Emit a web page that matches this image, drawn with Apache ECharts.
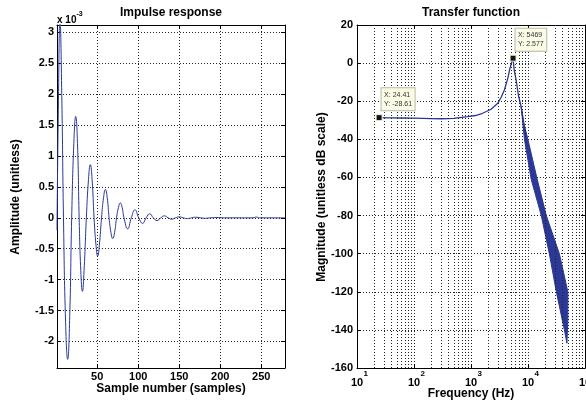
<!DOCTYPE html>
<html><head><meta charset="utf-8">
<script src="https://cdn.jsdelivr.net/npm/echarts@6/dist/echarts.min.js"></script>
<style>html,body{margin:0;padding:0;background:#fff}#c{width:586px;height:405px}</style>
</head><body><div id="c"></div>
<script>
// ---- Impulse response (amplitude in units of 1e-3) ----
const impulseSample = [1, 2.5, 4.7, 6.8, 8.9, 11.5, 14, 16.5, 18.9, 21.5, 23.8, 26, 28, 30, 32, 34, 36.8, 39.4, 41.6, 43.8, 46.2, 48.6, 50.6, 52.6, 55.3, 57.8, 60, 62.2, 64.5, 66.8, 69, 71.2, 73.6, 76, 78.2, 80.4, 82.7, 87.2, 91.6, 96, 100.7, 105.4, 109.7, 114, 118.5, 123, 127.5, 132, 136.5, 141, 145.5, 150, 155, 160, 165, 170, 176, 182, 188, 195, 205, 240, 244, 248, 279];
const impulseAmp = [-0.2, 1.6, 3.2, 2.0, 0, -1.7, -2.29, -1.6, 0, 1.2, 1.64, 1.2, 0, -0.85, -1.19, -0.85, 0, 0.62, 0.86, 0.62, 0, -0.45, -0.62, -0.45, 0, 0.33, 0.46, 0.33, 0, -0.24, -0.335, -0.24, 0, 0.17, 0.24, 0.17, 0, -0.178, 0, 0.13, 0, -0.09, 0, 0.065, 0, -0.045, 0, 0.032, 0, -0.022, 0, 0.016, 0, -0.012, 0, 0.009, 0, -0.007, 0, 0.005, 0, 0, 0.012, 0, 0];
const sampleTicks = [50, 100, 150, 200, 250];
const ampTicks = [-2, -1.5, -1, -0.5, 0, 0.5, 1, 1.5, 2, 2.5, 3];

// ---- Transfer function: smooth part ----
const tfFreq = [24.41, 40, 60, 100, 200, 300, 500, 870, 1200, 1500, 2250, 2950, 3400, 3850, 4420, 4800, 5200, 5469, 5700, 5875, 6200, 6800, 7586, 8400, 9300];
const tfMag = [-28.61, -28.7, -28.8, -28.9, -29.1, -29.2, -29.0, -28.1, -27.5, -26.7, -24.2, -21.1, -17.8, -14.1, -8.0, -3.0, 0.7, 2.577, -3.0, -5.4, -9.0, -17, -22.9, -31.6, -40.5];
// ---- Transfer function: noisy high-frequency band (outline: upper edge out, lower edge back) ----
const bandFreq = [7586, 8400, 9950, 14520, 20940, 35480, 50000, 50000, 48170, 43490, 31410, 23660, 17100, 11380, 8670, 7586];
const bandMag = [-22.9, -31.2, -40, -61, -80, -100, -120, -135, -147, -140, -120, -100, -80, -61, -40, -22.9];

const freqMinorGrid = [20, 30, 40, 50, 60, 70, 80, 90, 200, 300, 400, 500, 600, 700, 800, 900, 2000, 3000, 4000, 5000, 6000, 7000, 8000, 9000, 20000, 30000, 40000, 50000, 60000, 70000, 80000, 90000];
const tipFreq = [24.41, 5469];
const tipMag = [-28.61, 2.577];

const FONT = "'Liberation Sans', Arial, Helvetica, sans-serif";
const LINE = '#2b3896';
const gridLine = { show: true, lineStyle: { color: '#222', width: 1, type: [1, 2] } };
const axLine = { show: true, onZero: false, lineStyle: { color: '#000', width: 1 } };
const lbl = { color: '#000', fontFamily: FONT, fontWeight: 'bold', fontSize: 11 };

function pairs(xs, ys) { return xs.map((x, i) => [x, ys[i]]); }

const chart = echarts.init(document.getElementById('c'), null, { renderer: 'canvas' });
chart.setOption({
  animation: false,
  backgroundColor: '#fff',
  grid: [
    { left: 57, top: 25, width: 228, height: 343, outerBoundsMode: 'none', containLabel: false },
    { left: 357, top: 25, width: 228, height: 343, outerBoundsMode: 'none', containLabel: false }
  ],
  xAxis: [
    { gridIndex: 0, type: 'value', min: 1, max: 279, position: 'bottom', axisLine: axLine,
      axisTick: { show: true, inside: true, length: 4, customValues: sampleTicks, lineStyle: { color: '#000' } },
      axisLabel: Object.assign({ customValues: sampleTicks, margin: 3 }, lbl), splitLine: gridLine },
    { gridIndex: 0, type: 'value', min: 1, max: 279, position: 'top', axisLine: axLine,
      axisTick: { show: true, inside: true, length: 4, customValues: sampleTicks, lineStyle: { color: '#000' } },
      axisLabel: { show: false }, splitLine: { show: false } },
    { gridIndex: 1, type: 'log', logBase: 10, min: 10, max: 100000, position: 'bottom', axisLine: axLine,
      axisTick: { show: true, inside: true, length: 4, lineStyle: { color: '#000' } },
      axisLabel: { margin: 2, color: '#000',
        formatter: v => '{p|}{b|10}{s|' + Math.round(Math.log10(v)) + '}',
        rich: {
          p: { width: 5 },
          b: { fontFamily: FONT, fontWeight: 'bold', fontSize: 11, lineHeight: 18, verticalAlign: 'bottom', color: '#000' },
          s: { fontFamily: FONT, fontWeight: 'bold', fontSize: 8, lineHeight: 18, verticalAlign: 'top', color: '#000', width: 5 }
        } },
      splitLine: gridLine },
    { gridIndex: 1, type: 'log', logBase: 10, min: 10, max: 100000, position: 'top', axisLine: axLine,
      axisTick: { show: true, inside: true, length: 4, lineStyle: { color: '#000' } },
      axisLabel: { show: false }, splitLine: { show: false } }
  ],
  yAxis: [
    { gridIndex: 0, type: 'value', min: -2.43, max: 3.12, position: 'left', axisLine: axLine,
      axisTick: { show: true, inside: true, length: 4, customValues: ampTicks, lineStyle: { color: '#000' } },
      axisLabel: Object.assign({ customValues: ampTicks, margin: 3 }, lbl), splitLine: gridLine },
    { gridIndex: 0, type: 'value', min: -2.43, max: 3.12, position: 'right', axisLine: axLine,
      axisTick: { show: true, inside: true, length: 4, customValues: ampTicks, lineStyle: { color: '#000' } },
      axisLabel: { show: false }, splitLine: { show: false } },
    { gridIndex: 1, type: 'value', min: -160, max: 20, interval: 20, position: 'left', axisLine: axLine,
      axisTick: { show: true, inside: true, length: 4, lineStyle: { color: '#000' } },
      axisLabel: Object.assign({ margin: 4 }, lbl), splitLine: gridLine },
    { gridIndex: 1, type: 'value', min: -160, max: 20, interval: 20, position: 'right', axisLine: axLine,
      axisTick: { show: true, inside: true, length: 4, lineStyle: { color: '#000' } },
      axisLabel: { show: false }, splitLine: { show: false } }
  ],
  series: [
    { type: 'line', xAxisIndex: 0, yAxisIndex: 0, data: pairs(impulseSample, impulseAmp), smooth: 0.5,
      showSymbol: false, symbol: 'none', lineStyle: { color: LINE, width: 1 }, clip: true, z: 3 },
    { type: 'line', xAxisIndex: 2, yAxisIndex: 2, data: [], z: 1, silent: true,
      markLine: { silent: true, symbol: ['none', 'none'], label: { show: false },
        lineStyle: { color: '#222', width: 1, type: [1, 2] },
        data: freqMinorGrid.map(f => ({ xAxis: f })) } },
    { type: 'custom', xAxisIndex: 2, yAxisIndex: 2, coordinateSystem: 'cartesian2d', data: [[bandFreq[0], bandMag[0]]], z: 3, silent: true,
      renderItem: (params, api) => ({
        type: 'polygon',
        shape: { points: bandFreq.map((f, i) => api.coord([f, bandMag[i]])) },
        style: { fill: LINE, stroke: LINE, lineWidth: 1 }
      }) },
    { type: 'line', xAxisIndex: 2, yAxisIndex: 2, data: pairs(tfFreq, tfMag), smooth: false,
      showSymbol: false, symbol: 'none', lineStyle: { color: LINE, width: 1.3 }, clip: true, z: 4,
      markPoint: { symbol: 'rect', symbolSize: 6,
        itemStyle: { color: '#111', borderColor: '#f4f4d8', borderWidth: 1 },
        label: { show: true, position: [6, -26], align: 'left', verticalAlign: 'top',
          formatter: p => 'X: ' + p.data.coord[0] + '\nY: ' + p.data.coord[1],
          backgroundColor: '#fbfbe6', borderColor: '#b8b8a8', borderWidth: 1, padding: [2, 2.5],
          fontFamily: FONT, fontSize: 7, lineHeight: 9, color: '#333' },
        data: tipFreq.map((f, i) => ({ coord: [f, tipMag[i]] })) } }
  ],
  graphic: [
    { type: 'text', x: 171, y: 13, style: { text: 'Impulse response', font: 'bold 12px ' + FONT, fill: '#000', align: 'center', verticalAlign: 'middle' } },
    { type: 'text', x: 471, y: 13, style: { text: 'Transfer function', font: 'bold 12px ' + FONT, fill: '#000', align: 'center', verticalAlign: 'middle' } },
    { type: 'text', x: 171, y: 389, style: { text: 'Sample number (samples)', font: 'bold 12px ' + FONT, fill: '#000', align: 'center', verticalAlign: 'middle' } },
    { type: 'text', x: 471, y: 394, style: { text: 'Frequency (Hz)', font: 'bold 12px ' + FONT, fill: '#000', align: 'center', verticalAlign: 'middle' } },
    { type: 'text', x: 16, y: 197, rotation: Math.PI / 2, style: { text: 'Amplitude (unitless)', font: 'bold 12px ' + FONT, fill: '#000', align: 'center', verticalAlign: 'middle' } },
    { type: 'text', x: 322, y: 197, rotation: Math.PI / 2, style: { text: 'Magnitude (unitless dB scale)', font: 'bold 12px ' + FONT, fill: '#000', align: 'center', verticalAlign: 'middle' } },
    { type: 'text', x: 57, y: 11, style: { text: '{a|x 10}{b|-3}', align: 'left', verticalAlign: 'top',
        rich: { a: { fontFamily: FONT, fontWeight: 'bold', fontSize: 10, lineHeight: 14, verticalAlign: 'bottom', fill: '#000' },
                b: { fontFamily: FONT, fontWeight: 'bold', fontSize: 7, lineHeight: 14, verticalAlign: 'top', fill: '#000' } } } }
  ]
});
</script>
</body></html>
